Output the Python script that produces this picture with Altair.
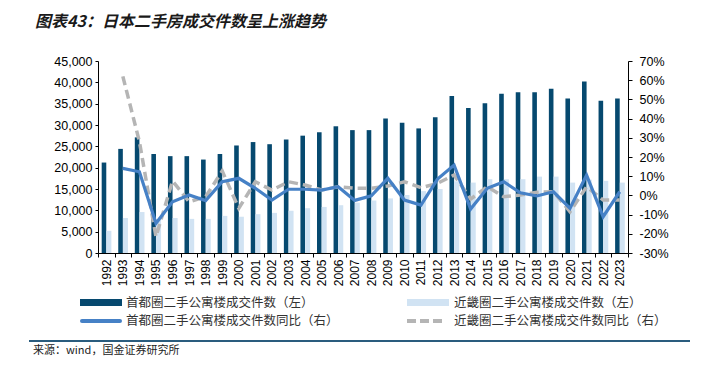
import altair as alt
import pandas as pd

years = [str(y) for y in range(1992, 2024)]
tokyo = [21200, 24400, 27100, 23200, 22700, 22700, 21900, 23200, 25200, 26000, 25500,
         26600, 27500, 28300, 29700, 28800, 28800, 31500, 30500, 29200, 31800,
         36800, 34000, 35100, 37300, 37700, 37700, 38500, 36200, 40200, 35700, 36200]
kinki = [5200, 8200, 9600, 7800, 8200, 8000, 8000, 8700, 8500, 9100, 9400,
         9900, 10500, 10800, 11200, 11800, 12300, 12800, 13600, 14500, 15000,
         16800, 16500, 17300, 17300, 17300, 17900, 17900, 16500, 17200, 16900, 16500]
tokyo_yoy = [None, 14.1, 12.3, -14.5, -3.3, 0.2, -2.7, 7.1, 8.9, 3.7, -2.4,
             3.2, 3.2, 2.8, 4.5, -2.6, -0.2, 8.9, -2.4, -5.0, 8.5,
             15.8, -7.1, 3.7, 7.1, 1.4, -0.3, 1.9, -6.7, 10.6, -11.1, 1.9]
kinki_yoy = [None, 62, 28, -21.5, 7.5, -3.3, -0.7, 12.7, -6.7, 7.1, 2.8,
             7.1, 5.4, 2.8, 4.5, 3.7, 3.7, 4.9, 7.1, 4.0, 6.3,
             10.6, -1.9, 4.5, -0.7, 0.2, 1.6, 1.9, -8.5, 4.5, -2.4, -2.4]

left_ticks = list(range(0, 45001, 5000))
right_ticks = list(range(-30, 71, 10))

title_text = "图表43：日本二手房成交件数呈上涨趋势"
legend_labels = ["首都圈二手公寓楼成交件数（左）", "近畿圈二手公寓楼成交件数（左）",
                 "首都圈二手公寓楼成交件数同比（右）", "近畿圈二手公寓楼成交件数同比（右）"]
source_text = "来源：wind，国金证券研究所"

DARK = "#06496F"
LIGHT = "#D1E3F3"
BLUE = "#4681C6"
GRAY = "#B5B5B5"
LAT = "Liberation Sans"
CJK = "Noto Sans CJK SC"

df = pd.DataFrame({"year": years, "tokyo": tokyo, "kinki": kinki,
                   "tokyo_yoy": tokyo_yoy, "kinki_yoy": kinki_yoy})

x_enc = alt.X("year:O", scale=alt.Scale(paddingInner=0, paddingOuter=0),
              axis=alt.Axis(title=None, labelAngle=-90, labelFont=LAT, labelFontSize=12,
                            labelColor="#000", domainColor="#000", tickColor="#000",
                            tickSize=4, tickBand="extent", labelPadding=2))

left_axis = alt.Axis(title=None, values=left_ticks, format=",.0f", labelFont=LAT,
                     labelFontSize=12.5, labelColor="#000", domainColor="#000",
                     tickColor="#000", tickSize=3, labelPadding=3, grid=False)
left_scale = alt.Scale(domain=[0, 45000], nice=False)

bar_t = alt.Chart().mark_bar(width=4.6, xOffset=-2.3, color=DARK).encode(
    x=x_enc, y=alt.Y("tokyo:Q", scale=left_scale, axis=left_axis))
bar_k = alt.Chart().mark_bar(width=5, xOffset=2.6, color=LIGHT).encode(
    x=x_enc, y=alt.Y("kinki:Q", scale=left_scale, axis=left_axis))

right_axis = alt.Axis(title=None, orient="right", values=right_ticks,
                      labelExpr="datum.value + '%'", labelFont=LAT, labelFontSize=12.5,
                      labelColor="#000", domainColor="#000", tickColor="#000",
                      tickSize=4, labelPadding=7, grid=False)
right_scale = alt.Scale(domain=[-30, 70], nice=False)

line_k = alt.Chart().mark_line(color=GRAY, strokeWidth=3.5, strokeDash=[9, 5]).encode(
    x=x_enc, y=alt.Y("kinki_yoy:Q", scale=right_scale, axis=right_axis))
line_t = alt.Chart().mark_line(color=BLUE, strokeWidth=3.2).encode(
    x=x_enc, y=alt.Y("tokyo_yoy:Q", scale=right_scale, axis=right_axis))

main = alt.layer(alt.layer(bar_t, bar_k), alt.layer(line_k, line_t), data=df).resolve_scale(y="independent")

one = pd.DataFrame({"a": [0]})

def txt(s, x, y, size=11, font=CJK, **kw):
    return alt.Chart(one).mark_text(text=s, font=font, fontSize=size, align="left",
                                    baseline="middle", **kw).encode(
        x=alt.value(x), y=alt.value(y))

# positions relative to plot origin (98, 61)
title = txt(title_text, -63, -39, size=16, fontWeight="bold", fontStyle="italic", color="#1a1a1a")
sw1 = alt.Chart(one).mark_rect(color=DARK).encode(
    x=alt.value(-18), x2=alt.value(24), y=alt.value(238), y2=alt.value(245))
sw2 = alt.Chart(one).mark_rect(color=LIGHT).encode(
    x=alt.value(309), x2=alt.value(351), y=alt.value(238), y2=alt.value(245))
sw3 = alt.Chart(one).mark_rule(color=BLUE, strokeWidth=4, strokeCap="round").encode(
    x=alt.value(-16), x2=alt.value(22), y=alt.value(260))
sw4 = alt.Chart(one).mark_rule(color=GRAY, strokeWidth=4, strokeDash=[9, 4]).encode(
    x=alt.value(309), x2=alt.value(347), y=alt.value(260))
t1 = txt(legend_labels[0], 28, 241.5, size=12.5, color="#333")
t2 = txt(legend_labels[1], 356, 241.5, size=12.5, color="#333")
t3 = txt(legend_labels[2], 28, 260, size=12.5, color="#333")
t4 = txt(legend_labels[3], 356, 260, size=12.5, color="#333")
sep = alt.Chart(one).mark_rule(color="#2A5C7E", strokeWidth=2).encode(
    x=alt.value(-69), x2=alt.value(592), y=alt.value(280))
src = txt(source_text, -65, 290, size=11, color="#222")

chart = alt.layer(main, title, sw1, sw2, sw3, sw4, t1, t2, t3, t4, sep, src).properties(
    width=530, height=192,
    autosize=alt.AutoSizeParams(type="none"),
    padding={"left": 90, "top": 53, "right": 75, "bottom": 104},
).configure_view(stroke=None)

chart.save("out.html", embed_options={"renderer": "svg", "actions": False})
